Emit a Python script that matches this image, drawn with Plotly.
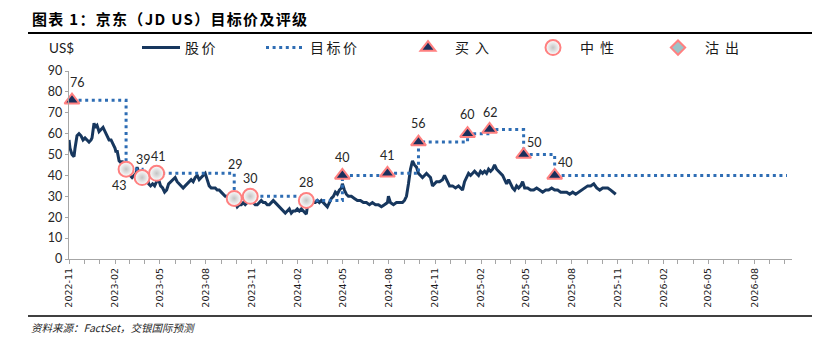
import plotly.graph_objects as go

# ---------------- data ----------------
price_dates = [
    "2022-11-01","2022-11-03","2022-11-07","2022-11-11","2022-11-13","2022-11-17","2022-11-21","2022-11-25","2022-11-29",
    "2022-12-03","2022-12-07","2022-12-11","2022-12-15","2022-12-17","2022-12-21","2022-12-23","2022-12-27","2022-12-31",
    "2023-01-04","2023-01-08","2023-01-12","2023-01-16","2023-01-20","2023-01-24","2023-01-28",
    "2023-02-01","2023-02-03","2023-02-05","2023-02-09","2023-02-13","2023-02-15","2023-02-19","2023-02-23","2023-02-27",
    "2023-03-03","2023-03-07","2023-03-11","2023-03-15","2023-03-17","2023-03-21","2023-03-27",
    "2023-04-01","2023-04-05","2023-04-09","2023-04-13","2023-04-17","2023-04-21","2023-04-25","2023-04-29",
    "2023-05-03","2023-05-07","2023-05-11","2023-05-15","2023-05-19","2023-05-23","2023-05-27",
    "2023-06-01","2023-06-05","2023-06-09","2023-06-13","2023-06-17","2023-06-21","2023-06-25","2023-06-29",
    "2023-07-03","2023-07-07","2023-07-11","2023-07-15","2023-07-19","2023-07-23","2023-07-27","2023-07-31",
    "2023-08-04","2023-08-08","2023-08-12","2023-08-16","2023-08-20","2023-08-24","2023-08-28",
    "2023-09-01","2023-09-05","2023-09-09","2023-09-13","2023-09-17","2023-09-21","2023-09-25","2023-09-29",
    "2023-10-03","2023-10-07","2023-10-11","2023-10-15","2023-10-19","2023-10-23","2023-10-27","2023-10-31",
    "2023-11-04","2023-11-08","2023-11-12","2023-11-16","2023-11-20","2023-11-24","2023-11-28",
    "2023-12-02","2023-12-06","2023-12-10","2023-12-14","2023-12-18","2023-12-22","2023-12-26","2023-12-30",
    "2024-01-03","2024-01-07","2024-01-11","2024-01-15","2024-01-19","2024-01-23","2024-01-27","2024-01-31",
    "2024-02-04","2024-02-08","2024-02-12","2024-02-16","2024-02-18","2024-02-20","2024-02-24","2024-02-28",
    "2024-03-03","2024-03-07","2024-03-11","2024-03-15","2024-03-19","2024-03-23","2024-03-27","2024-03-31",
    "2024-04-04","2024-04-08","2024-04-12","2024-04-16","2024-04-20","2024-04-24","2024-04-28","2024-04-30",
    "2024-05-04","2024-05-08","2024-05-12","2024-05-18","2024-05-24","2024-05-30",
    "2024-06-05","2024-06-11","2024-06-17","2024-06-23","2024-06-29",
    "2024-07-05","2024-07-11","2024-07-17","2024-07-23","2024-07-29","2024-07-31",
    "2024-08-04","2024-08-10","2024-08-16","2024-08-22","2024-08-28",
    "2024-09-01","2024-09-05","2024-09-09","2024-09-13","2024-09-17","2024-09-21","2024-09-25","2024-09-29",
    "2024-10-03","2024-10-07","2024-10-11","2024-10-15","2024-10-19","2024-10-23","2024-10-27","2024-10-31",
    "2024-11-04","2024-11-10","2024-11-16","2024-11-20","2024-11-24","2024-11-30",
    "2024-12-06","2024-12-12","2024-12-18","2024-12-22","2024-12-26","2024-12-30",
    "2025-01-03","2025-01-07","2025-01-11","2025-01-15","2025-01-19","2025-01-23","2025-01-27","2025-01-31",
    "2025-02-04","2025-02-08","2025-02-12","2025-02-16","2025-02-20","2025-02-24","2025-02-28",
    "2025-03-04","2025-03-08","2025-03-12","2025-03-16","2025-03-20","2025-03-24","2025-03-28",
    "2025-04-01","2025-04-05","2025-04-09","2025-04-13","2025-04-17","2025-04-21","2025-04-25","2025-04-29",
    "2025-05-05","2025-05-11","2025-05-17","2025-05-23","2025-05-29",
    "2025-06-04","2025-06-10","2025-06-16","2025-06-22","2025-06-28",
    "2025-07-04","2025-07-10","2025-07-16","2025-07-22","2025-07-28",
    "2025-08-03","2025-08-09","2025-08-15","2025-08-21","2025-08-27",
    "2025-09-02","2025-09-08","2025-09-14","2025-09-20","2025-09-26",
    "2025-10-02","2025-10-08","2025-10-12","2025-10-18","2025-10-22","2025-10-28",
]
price_values = [
    57,53,50,49,53,59,60,59,57,
    58,57,56,57,58,65,63,64,61,
    62,63,61,59,57,57,55,
    53,51,52,47,46,47,45,44,42,
    40,39,40,41,44,41,39,
    40,41,36,35,36,35,37,38,
    35,34,32,33,36,37,38,
    39,37,36,35,34,35,36,37,
    38,37,39,40,38,39,40,41,
    38,35,34,34,34,33,33,
    32,31,30,30,29,28,28,27,
    25,26,26,27,26,27,28,28,
    27,26,26,27,28,27,27,
    26,26,27,28,27,26,25,24,
    23,22,23,24,22,23,23,24,
    23,24,23,22,21.5,25,27,28,
    27,27,28,27,28,27,26,25,
    27,29,30,32,31,33,34,36,
    33,31,30,30,29,28,
    28,27,27,26,27,
    26,26,25,26,27,30,
    27,26,27,27,27,
    28,30,36,43,47,45,44,41,
    40,39,40,41,40,39,35,36,
    37,37,38,40,38,35,
    35,34,35,34,33,37,
    39,41,40,41,42,41,40,42,
    41,42,41,43,42,43,45,
    43,42,41,40,38,36,38,
    36,34,33,35,34,35,37,34,
    34,33,33,34,33,
    32,33,33,34,33,
    33,32,32,32,31,
    32,31,32,33,34,
    35,35,36,34,33,
    34,34,34,33,32,31,
]

target_dates = ["2022-11-07","2023-02-23","2023-03-27","2023-04-25","2023-09-27","2023-10-29","2024-02-18",
                "2024-04-30","2024-07-29","2024-09-29","2025-01-05","2025-02-18","2025-04-27","2025-06-28"]
target_values = [76, 43, 39, 41, 29, 30, 28, 40, 41, 56, 60, 62, 50, 40]
target_ratings = ["买入","中性","中性","中性","中性","中性","中性","买入","买入","买入","买入","买入","买入","买入"]
target_end_date = "2026-10-05"

series_names = ["股价", "目标价"]
rating_names = ["买入", "中性", "沽出"]
title_text = "图表 1：京东（JD US）目标价及评级"
source_text = "资料来源：FactSet，交银国际预测"
unit_text = "US$"

# ---------------- styling ----------------
NAVY = "#17375E"
DOT_BLUE = "#2E6DB4"
PINK = "#FF8080"
LABEL_FONT = "Lato, 'Open Sans', sans-serif"
CJK = "'Noto Sans CJK SC', sans-serif"

# label offsets (pixels) for each target point annotation
label_offsets = [(5, -18), (-7, 16), (1, -18), (2, -17), (1, -34), (0, -18), (0, -18),
                 (0, -18), (0, -18), (0, -19), (0, -19), (1, -17), (11, -12), (11, -13)]

fig = go.Figure()

fig.add_trace(go.Scatter(
    x=price_dates, y=price_values, mode="lines",
    name=f'<span style="letter-spacing:2.5px">{series_names[0]}</span>',
    line=dict(color=NAVY, width=3), legend="legend", hoverinfo="skip",
))

fig.add_trace(go.Scatter(
    x=target_dates + [target_end_date], y=target_values + [target_values[-1]],
    mode="lines", name=f'<span style="letter-spacing:2.5px">{series_names[1]}</span>',
    line=dict(color=DOT_BLUE, width=3, dash="3px,3.6px", shape="hv"),
    legend="legend2", hoverinfo="skip",
))

def pick(rating):
    xs = [d for d, r in zip(target_dates, target_ratings) if r == rating]
    ys = [v for v, r in zip(target_values, target_ratings) if r == rating]
    return (xs, ys) if xs else ([None], [None])

buy_x, buy_y = pick("买入")
neu_x, neu_y = pick("中性")
sell_x, sell_y = pick("沽出")

fig.add_trace(go.Scatter(
    x=buy_x, y=buy_y, mode="markers", name=f'<span style="letter-spacing:6px">{rating_names[0]}</span>',
    legend="legend3", hoverinfo="skip",
    marker=dict(symbol="triangle-up", size=13, color="#1B2F5C", line=dict(color=PINK, width=2)),
    cliponaxis=False,
))
fig.add_trace(go.Scatter(
    x=neu_x, y=neu_y, mode="markers", name=f'<span style="letter-spacing:6px">{rating_names[1]}</span>',
    legend="legend4", hoverinfo="skip",
    marker=dict(symbol="circle", size=15, color="#FFFFFF", line=dict(color=PINK, width=2),
                gradient=dict(type="radial", color="#C4C4C4")),
    cliponaxis=False,
))
fig.add_trace(go.Scatter(
    x=sell_x, y=sell_y, mode="markers", name=f'<span style="letter-spacing:6px">{rating_names[2]}</span>',
    legend="legend5", hoverinfo="skip",
    marker=dict(symbol="diamond", size=11, color="#9CC3C8", line=dict(color=PINK, width=2)),
))

# value labels
for d, v, (dx, dy) in zip(target_dates, target_values, label_offsets):
    fig.add_annotation(x=d, y=v, xref="x", yref="y", text=str(v), showarrow=False,
                       xshift=dx, yshift=-dy, font=dict(family=LABEL_FONT, size=12.5, color="#262626"))

# plot area in pixels
L, R, T, B = 69, 31, 71, 91
W, H = 823 - L - R, 350 - T - B

def px(xp):
    return (xp - L) / W

def py(yp):
    return (350 - B - yp) / H

def leg(xpix, iw):
    return dict(orientation="h", xanchor="left", yanchor="middle", bgcolor="rgba(0,0,0,0)",
                font=dict(family=CJK, size=14, color="#1a1a1a"), itemwidth=iw,
                x=px(xpix), y=py(48))

fig.update_layout(
    width=823, height=350,
    margin=dict(l=L, r=R, t=T, b=B),
    paper_bgcolor="white", plot_bgcolor="white",
    showlegend=True,
    legend=leg(137, 38), legend2=leg(261, 39), legend3=leg(401, 44), legend4=leg(526, 44), legend5=leg(651, 44),
    xaxis=dict(
        type="date", range=["2022-11-01", "2026-10-15"],
        tickmode="linear", tick0="2022-11-01", dtick="M3", tickformat="%Y-%m",
        tickangle=-90, ticks="outside", ticklen=4, tickcolor="#A6A6A6",
        minor=dict(dtick="M1", tick0="2022-11-01", ticks="outside", ticklen=4, tickcolor="#A6A6A6", showgrid=False),
        showline=True, linecolor="#A6A6A6", linewidth=1.3, showgrid=False, zeroline=False,
        tickfont=dict(family="DejaVu Sans, sans-serif", size=9.5, color="#1a1a1a"),
    ),
    yaxis=dict(
        range=[0, 90], dtick=10, ticks="outside", ticklen=3, tickcolor="#A6A6A6",
        showline=True, linecolor="#A6A6A6", linewidth=1.3, showgrid=False, zeroline=False,
        tickfont=dict(family=LABEL_FONT, size=12.5, color="#262626"),
    ),
)

# title
fig.add_annotation(xref="paper", yref="paper", x=px(30), y=py(18), xanchor="left", yanchor="middle",
                   text=f'<b><span style="letter-spacing:1.3px">{title_text}</span></b>',
                   showarrow=False, font=dict(family=CJK, size=15, color="#000000"))
# unit label
fig.add_annotation(xref="paper", yref="paper", x=px(47), y=py(48), xanchor="left", yanchor="middle",
                   text=unit_text, showarrow=False, font=dict(family=LABEL_FONT, size=13.5, color="#1a1a1a"))
# source
fig.add_annotation(xref="paper", yref="paper", x=px(29), y=py(327), xanchor="left", yanchor="middle",
                   text=f"<i>{source_text}</i>", showarrow=False,
                   font=dict(family=CJK, size=10.5, color="#262626"))

# horizontal rules
fig.add_shape(type="line", xref="paper", yref="paper", x0=px(28), x1=px(812), y0=py(33), y1=py(33),
              line=dict(color="#000000", width=2))
fig.add_shape(type="line", xref="paper", yref="paper", x0=px(28), x1=px(812), y0=py(316), y1=py(316),
              line=dict(color="#404040", width=2))

fig.write_html("out.html")
